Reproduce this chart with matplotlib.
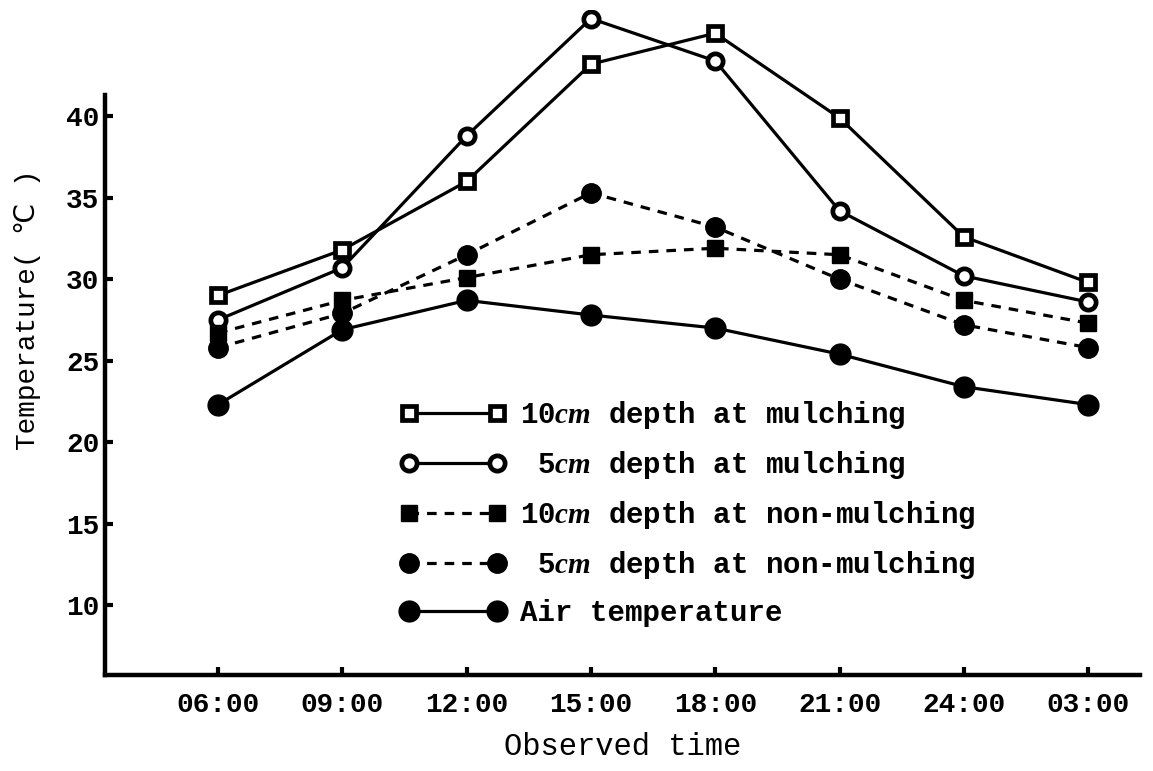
import matplotlib
matplotlib.use('Agg')
import matplotlib.pyplot as plt
import numpy as np

plt.rcParams['font.family'] = ['Liberation Mono', 'DejaVu Sans Mono', 'DejaVu Sans']
plt.rcParams['font.weight'] = 'bold'
plt.rcParams['mathtext.fontset'] = 'custom'
plt.rcParams['mathtext.it'] = 'Liberation Serif:italic:bold'

times = ['06:00', '09:00', '12:00', '15:00', '18:00', '21:00', '24:00', '03:00']
mulch_10cm = [29.0, 31.8, 36.0, 43.2, 45.1, 39.9, 32.6, 29.8]
mulch_5cm = [27.5, 30.7, 38.8, 46.0, 43.4, 34.2, 30.2, 28.6]
nonmulch_10cm = [26.7, 28.7, 30.1, 31.5, 31.9, 31.5, 28.7, 27.3]
nonmulch_5cm = [25.8, 27.9, 31.5, 35.3, 33.2, 30.0, 27.2, 25.8]
air_temp = [22.3, 26.9, 28.7, 27.8, 27.0, 25.4, 23.4, 22.3]
yticks = [10, 15, 20, 25, 30, 35, 40]

fig = plt.figure(figsize=(11.53, 7.71), dpi=100)
ax = fig.add_axes([0.091, 0.1245, 0.898, 0.862])
x = np.arange(len(times))

lw = 2.3
l1, = ax.plot(x, mulch_10cm, '-', color='black', lw=lw, marker='s', ms=10,
              mfc='white', mec='black', mew=3.4)
l2, = ax.plot(x, mulch_5cm, '-', color='black', lw=lw, marker='o', ms=11,
              mfc='white', mec='black', mew=3.4)
l3, = ax.plot(x, nonmulch_10cm, '--', color='black', lw=lw, marker='s', ms=12,
              mfc='black', mec='black', dashes=(3, 2.5))
l4, = ax.plot(x, nonmulch_5cm, '--', color='black', lw=lw, marker='o', ms=14,
              mfc='black', mec='black', dashes=(3, 2.5))
l5, = ax.plot(x, air_temp, '-', color='black', lw=lw, marker='o', ms=15,
              mfc='black', mec='black')

ax.set_xlim(-0.91, 7.42)
ax.set_ylim(5.7, 46.5)
ax.set_xticks(x)
ax.set_xticklabels(times)
ax.set_yticks(yticks)
ax.tick_params(axis='both', direction='in', length=6, width=3, labelsize=20)
ax.tick_params(axis='x', pad=12)
ax.tick_params(axis='y', pad=4)
for lab in ax.get_xticklabels() + ax.get_yticklabels():
    lab.set_fontweight('bold')

for s in ['top', 'right']:
    ax.spines[s].set_visible(False)
ax.spines['left'].set_linewidth(3.2)
ax.spines['bottom'].set_linewidth(3.2)
ax.spines['left'].set_bounds(5.7, 41.3)

ax.set_xlabel('Observed time', fontsize=22, fontweight='normal', labelpad=10)
ax.set_ylabel('Temperature( ℃ )', fontsize=20, fontweight='normal')
ax.yaxis.set_label_coords(-0.062, 0.55)

labels = ['10$\\it{cm}$ depth at mulching',
          ' 5$\\it{cm}$ depth at mulching',
          '10$\\it{cm}$ depth at non-mulching',
          ' 5$\\it{cm}$ depth at non-mulching',
          'Air temperature']
leg = ax.legend([l1, l2, l3, l4, l5], labels, loc='upper left',
                bbox_to_anchor=(0.26, 0.455), frameon=False, numpoints=2,
                handlelength=3.6, handletextpad=0.5, labelspacing=0.62,
                prop={'size': 21, 'weight': 'bold'})

fig.savefig('out.png', dpi=100)
